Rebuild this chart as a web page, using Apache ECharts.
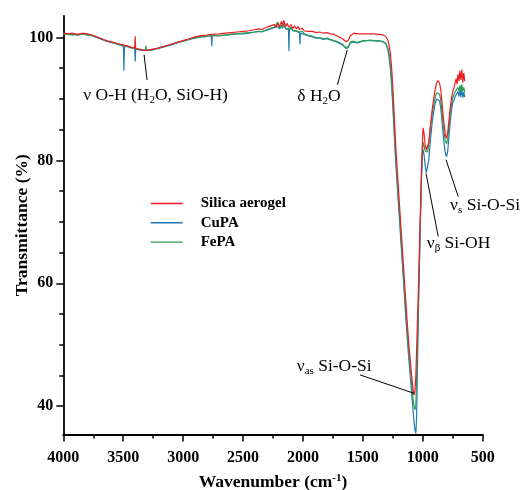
<!DOCTYPE html>
<html>
<head>
<meta charset="utf-8">
<script src="https://cdn.jsdelivr.net/npm/echarts@6/dist/echarts.min.js"></script>
<style>
  html, body { margin: 0; padding: 0; background: #fff; }
  #chart { width: 523px; height: 490px; }
</style>
</head>
<body>
<div id="chart"></div>
<script>
// FTIR spectra: wavenumber (cm-1) and transmittance (%) for each sample
const wavenumber = [
  4000, 3960, 3920, 3880, 3840, 3800, 3760, 3720, 3680, 3640,
  3600, 3560, 3520, 3498, 3494, 3490, 3460, 3430, 3404, 3400,
  3396, 3370, 3340, 3315, 3311, 3307, 3280, 3250, 3220, 3190,
  3150, 3100, 3050, 3000, 2950, 2900, 2850, 2800, 2765, 2761,
  2757, 2700, 2650, 2600, 2550, 2500, 2450, 2400, 2370, 2340,
  2320, 2300, 2285, 2270, 2255, 2240, 2225, 2210, 2195, 2180,
  2170, 2160, 2145, 2130, 2121, 2117, 2113, 2100, 2085, 2070,
  2055, 2040, 2029, 2025, 2021, 2005, 1990, 1975, 1960, 1945,
  1920, 1890, 1860, 1830, 1800, 1770, 1740, 1710, 1690, 1670,
  1655, 1640, 1631, 1620, 1605, 1590, 1575, 1560, 1545, 1530,
  1500, 1470, 1440, 1410, 1380, 1350, 1330, 1310, 1300, 1290,
  1280, 1270, 1260, 1250, 1240, 1230, 1220, 1210, 1200, 1180,
  1160, 1140, 1120, 1100, 1090, 1080, 1072, 1065, 1058, 1052,
  1045, 1040, 1030, 1020, 1011, 1005, 998, 990, 980, 970,
  960, 950, 940, 920, 900, 885, 872, 860, 850, 840,
  825, 812, 802, 792, 780, 770, 760, 750, 740, 730,
  722, 714, 706, 698, 690, 682, 674, 666, 658, 650
];

const silicaAerogel = [
  100.7, 100.6, 100.7, 100.5, 100.7, 100.6, 100.4, 100.1, 99.8, 99.5,
  99.3, 99.1, 98.9, 98.8, 98.6, 98.8, 98.6, 98.4, 98.3, 100.2,
  98.2, 98.1, 98.0, 97.9, 98.1, 97.9, 98.0, 98.1, 98.2, 98.4,
  98.6, 98.9, 99.2, 99.5, 99.8, 100.1, 100.3, 100.4, 100.5, 100.5,
  100.5, 100.6, 100.7, 100.8, 100.9, 101.0, 101.1, 101.3, 101.4, 101.3,
  101.5, 101.7, 101.5, 101.9, 101.6, 102.1, 101.7, 102.3, 101.8, 102.6,
  101.9, 102.8, 101.8, 102.3, 101.7, 102.0, 101.6, 102.1, 101.5, 101.9,
  101.4, 101.8, 101.3, 101.6, 101.2, 101.5, 101.1, 101.4, 101.0, 101.2,
  101.0, 100.8, 100.9, 100.7, 100.8, 100.6, 100.5, 100.2, 100.0, 99.8,
  99.6, 99.3, 99.2, 99.6, 100.3, 100.6, 100.7, 100.5, 100.6, 100.5,
  100.6, 100.6, 100.6, 100.6, 100.5, 100.5, 100.4, 100.2, 100.0, 99.5,
  98.6, 97.3, 95.0, 92.0, 88.0, 84.0, 80.5, 77.5, 74.5, 68.5,
  62.5, 56.5, 51.0, 46.5, 44.4, 42.6, 41.8, 42.6, 45.0, 48.8,
  53.5, 56.5, 64.2, 71.8, 78.4, 82.0, 85.3, 84.5, 82.5, 81.7,
  81.8, 83.0, 85.0, 88.5, 91.2, 92.6, 93.0, 92.6, 91.5, 89.5,
  86.3, 84.2, 83.6, 84.5, 86.8, 88.8, 90.2, 91.2, 91.8, 92.6,
  93.3, 92.4, 94.0, 92.9, 94.6, 93.1, 94.8, 92.7, 94.2, 92.9
];

const cuPA = [
  100.6, 100.5, 100.6, 100.4, 100.6, 100.5, 100.3, 100.0, 99.7, 99.4,
  99.2, 99.0, 98.7, 98.6, 94.6, 98.5, 98.5, 98.3, 98.2, 96.1,
  98.1, 98.0, 97.9, 97.9, 98.0, 97.9, 97.9, 98.0, 98.2, 98.3,
  98.5, 98.8, 99.1, 99.4, 99.7, 99.9, 100.1, 100.2, 100.3, 98.6,
  100.3, 100.3, 100.4, 100.5, 100.6, 100.6, 100.7, 100.9, 101.0, 100.9,
  101.1, 101.2, 101.1, 101.4, 101.2, 101.6, 101.3, 101.8, 101.4, 101.9,
  101.5, 102.2, 101.4, 101.7, 101.3, 97.8, 101.2, 101.6, 101.1, 101.4,
  101.0, 101.3, 100.8, 98.9, 100.7, 100.9, 100.5, 100.6, 100.3, 100.4,
  100.1, 99.9, 99.9, 99.7, 99.8, 99.6, 99.4, 99.2, 99.0, 98.8,
  98.6, 98.2, 98.0, 98.4, 99.1, 99.3, 99.3, 99.0, 99.1, 99.3,
  99.4, 99.5, 99.5, 99.5, 99.4, 99.4, 99.3, 99.0, 98.6, 97.8,
  96.6, 94.8, 92.2, 88.8, 85.0, 81.2, 78.0, 75.0, 72.0, 66.0,
  60.2, 54.0, 48.5, 43.8, 41.4, 39.0, 37.3, 36.1, 35.6, 38.0,
  45.5, 51.5, 61.5, 70.0, 76.8, 80.5, 81.8, 81.0, 79.2, 78.0,
  78.2, 80.0, 82.5, 86.5, 89.0, 90.0, 90.2, 89.7, 88.5, 86.5,
  83.2, 81.2, 80.6, 81.5, 84.3, 86.5, 88.2, 89.3, 89.8, 90.4,
  90.7, 90.2, 91.2, 90.4, 91.5, 90.3, 91.7, 90.2, 91.1, 90.3
];

const fePA = [
  100.6, 100.5, 100.4, 100.5, 100.6, 100.4, 100.3, 100.0, 99.8, 99.4,
  99.2, 99.0, 98.8, 98.7, 98.5, 98.7, 98.5, 98.3, 98.2, 98.6,
  98.2, 98.1, 98.0, 97.9, 98.7, 97.9, 98.0, 98.1, 98.2, 98.4,
  98.6, 98.9, 99.2, 99.4, 99.7, 100.0, 100.1, 100.2, 100.3, 100.3,
  100.3, 100.3, 100.4, 100.5, 100.6, 100.7, 100.8, 100.9, 101.0, 101.0,
  101.1, 101.3, 101.2, 101.5, 101.3, 101.7, 101.4, 102.5, 101.5, 102.0,
  101.6, 102.3, 101.5, 101.8, 101.4, 101.6, 101.3, 101.7, 101.2, 101.5,
  101.1, 101.4, 100.9, 101.0, 100.8, 101.0, 100.6, 100.7, 100.4, 100.5,
  100.2, 100.0, 100.0, 99.8, 99.9, 99.7, 99.5, 99.3, 99.1, 98.9,
  98.7, 98.3, 98.2, 98.6, 99.3, 99.5, 99.4, 99.1, 99.2, 99.4,
  99.5, 99.5, 99.6, 99.5, 99.5, 99.4, 99.3, 99.1, 98.8, 98.2,
  97.2, 95.6, 93.0, 89.7, 85.8, 82.0, 78.8, 75.8, 72.8, 66.8,
  60.9, 54.8, 49.5, 45.0, 42.9, 41.0, 40.0, 39.4, 40.2, 44.2,
  49.5, 54.0, 62.0, 70.5, 77.5, 80.8, 83.0, 82.4, 81.5, 81.2,
  81.4, 82.6, 84.6, 87.8, 90.0, 91.0, 91.2, 90.8, 89.8, 87.8,
  84.8, 83.2, 82.7, 83.5, 85.8, 87.8, 89.2, 90.2, 90.7, 91.2,
  91.5, 91.0, 91.9, 91.3, 92.2, 91.2, 92.4, 91.3, 91.9, 91.1
];

const seriesNames = ['Silica aerogel', 'CuPA', 'FePA'];
const yLabelValues = [40, 60, 80, 100];
const yMinorValues = [45, 50, 55, 65, 70, 75, 85, 90, 95];

const SERIF = "'Liberation Serif', 'Times New Roman', serif";
const colors = { silica: '#ee1c23', cu: '#1f7ab6', fe: '#2e9e52' };

const chart = echarts.init(document.getElementById('chart'), null, { renderer: 'canvas' });

const toPairs = (vals) => wavenumber.map((w, i) => [w, vals[i]]);

const lineSeries = (name, vals, color, z) => ({
  name: name,
  type: 'line',
  data: toPairs(vals),
  symbol: 'none',
  z: z,
  lineStyle: { color: color, width: 1.2 },
  itemStyle: { color: color },
  animation: false
});

const yRange = { min: 35.4, max: 103.5 };

chart.setOption({
  backgroundColor: '#fff',
  animation: false,
  grid: { left: 63.3, right: 40.3, top: 16, bottom: 55.5, containLabel: false, outerBoundsMode: 'none' },
  legend: {
    data: seriesNames,
    orient: 'vertical',
    left: 150,
    top: 196,
    padding: 0,
    itemWidth: 32,
    itemHeight: 14,
    itemGap: 4.3,
    itemStyle: { color: 'rgba(0,0,0,0)', borderWidth: 0, opacity: 0 },
    lineStyle: { width: 1.4 },
    textStyle: {
      fontFamily: SERIF, fontWeight: 'bold', fontSize: 15, color: '#000',
      padding: [0, 0, 0, 13]
    }
  },
  xAxis: {
    type: 'value',
    min: 500,
    max: 4000,
    interval: 500,
    inverse: true,
    name: 'Wavenumber (cm{sup|-1})',
    nameLocation: 'middle',
    nameGap: 38,
    nameMoveOverlap: false,
    nameTextStyle: {
      fontFamily: SERIF, fontWeight: 'bold', fontSize: 17.5, color: '#000',
      rich: {
        sup: { fontFamily: SERIF, fontWeight: 'bold', fontSize: 11, color: '#000', padding: [0, 0, 8, 0] }
      }
    },
    axisLine: { show: true, lineStyle: { color: '#000', width: 1.8 } },
    axisTick: { show: true, length: 7, lineStyle: { color: '#000', width: 1.5 } },
    minorTick: { show: true, splitNumber: 2, length: 4, lineStyle: { color: '#000', width: 1.5 } },
    axisLabel: {
      fontFamily: SERIF, fontWeight: 'bold', fontSize: 16, color: '#000', margin: 15,
      formatter: (v) => String(v)
    },
    splitLine: { show: false },
    minorSplitLine: { show: false }
  },
  yAxis: [
    {
      type: 'value',
      min: yRange.min,
      max: yRange.max,
      position: 'left',
      name: 'Transmittance (%)',
      nameLocation: 'middle',
      nameGap: 32,
      nameMoveOverlap: false,
      nameTextStyle: { fontFamily: SERIF, fontWeight: 'bold', fontSize: 17.5, color: '#000' },
      axisLine: { show: true, lineStyle: { color: '#000', width: 1.8 } },
      axisTick: { show: true, length: 7, customValues: yLabelValues, lineStyle: { color: '#000', width: 1.5 } },
      axisLabel: {
        customValues: yLabelValues,
        fontFamily: SERIF, fontWeight: 'bold', fontSize: 16, color: '#000', margin: 10,
        formatter: (v) => String(v)
      },
      splitLine: { show: false }
    },
    {
      type: 'value',
      min: yRange.min,
      max: yRange.max,
      position: 'left',
      axisLine: { show: false },
      axisTick: { show: true, length: 4, customValues: yMinorValues, lineStyle: { color: '#000', width: 1.5 } },
      axisLabel: { show: false },
      splitLine: { show: false }
    }
  ],
  series: [
    lineSeries(seriesNames[0], silicaAerogel, colors.silica, 4),
    lineSeries(seriesNames[1], cuPA, colors.cu, 2),
    lineSeries(seriesNames[2], fePA, colors.fe, 3)
  ]
});

// Band assignments: label anchor and leader line ends, in data coordinates
const bands = [
  { text: 'ν O-H (H{s|2}O, SiO-H)', at: [3230, 90.5], align: 'center', from: [3326, 97.2], to: [3301, 93.1] },
  { text: 'δ H{s|2}O', at: [1866, 90.4], align: 'center', from: [1630, 98.0], to: [1713, 92.3] },
  { text: 'ν{s|s} Si-O-Si', at: [772, 72.7], align: 'left', from: [806, 80.1], to: [704, 74.1] },
  { text: 'ν{s|β} Si-OH', at: [967, 66.5], align: 'left', from: [973, 77.9], to: [871, 67.6] },
  { text: 'ν{s|as} Si-O-Si', at: [2052, 46.4], align: 'left', from: [1524, 45.1], to: [1073, 42.1] }
];

const px = (p) => chart.convertToPixel({ gridIndex: 0 }, p);
const graphics = [];
bands.forEach((b) => {
  const a = px(b.from), c = px(b.to), t = px(b.at);
  graphics.push({
    type: 'line',
    shape: { x1: a[0], y1: a[1], x2: c[0], y2: c[1] },
    style: { stroke: '#000', lineWidth: 1 },
    z: 10
  });
  graphics.push({
    type: 'text',
    x: t[0],
    y: t[1],
    z: 10,
    style: {
      text: b.text,
      fontFamily: SERIF,
      fontSize: 17.5,
      fill: '#000',
      align: b.align,
      verticalAlign: 'middle',
      rich: {
        s: { fontFamily: SERIF, fontSize: 11, fill: '#000', padding: [9, 0, 0, 0] }
      }
    }
  });
});
chart.setOption({ graphic: graphics });
</script>
</body>
</html>
